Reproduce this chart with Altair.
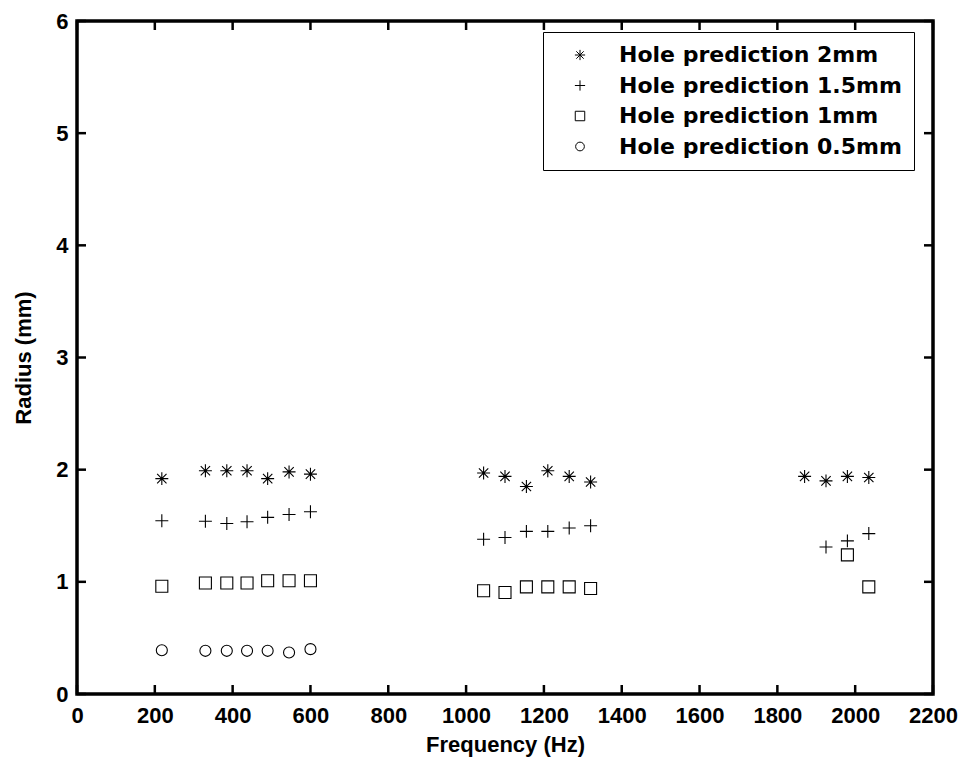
import altair as alt
import pandas as pd

# ---- data ----
series_names = ["Hole prediction 2mm", "Hole prediction 1.5mm",
                "Hole prediction 1mm", "Hole prediction 0.5mm"]

freq_2mm = [218, 330, 385, 437, 490, 545, 600,
            1045, 1100, 1155, 1210, 1265, 1320,
            1870, 1925, 1980, 2035]
rad_2mm = [1.92, 1.99, 1.99, 1.99, 1.92, 1.98, 1.96,
           1.97, 1.94, 1.85, 1.99, 1.94, 1.89,
           1.94, 1.90, 1.94, 1.93]

freq_15mm = [218, 330, 385, 437, 490, 545, 600,
             1045, 1100, 1155, 1210, 1265, 1320,
             1925, 1980, 2035]
rad_15mm = [1.545, 1.54, 1.52, 1.535, 1.575, 1.60, 1.625,
            1.38, 1.395, 1.45, 1.45, 1.48, 1.50,
            1.31, 1.365, 1.43]

freq_1mm = [218, 330, 385, 437, 490, 545, 600,
            1045, 1100, 1155, 1210, 1265, 1320,
            1980, 2035]
rad_1mm = [0.96, 0.99, 0.99, 0.99, 1.01, 1.01, 1.01,
           0.92, 0.905, 0.955, 0.955, 0.955, 0.94,
           1.24, 0.955]

freq_05mm = [218, 330, 385, 437, 490, 545, 600]
rad_05mm = [0.39, 0.385, 0.385, 0.385, 0.385, 0.37, 0.40]

x_ticks = [0, 200, 400, 600, 800, 1000, 1200, 1400, 1600, 1800, 2000, 2200]
y_ticks = [0, 1, 2, 3, 4, 5, 6]

# ---- build table ----
rows = []
for name, fs, rs in zip(series_names,
                        [freq_2mm, freq_15mm, freq_1mm, freq_05mm],
                        [rad_2mm, rad_15mm, rad_1mm, rad_05mm]):
    for f, r in zip(fs, rs):
        rows.append({"series": name, "freq": f, "radius": r})
df = pd.DataFrame(rows)

W, H = 856, 673
TICK = 9

star_path = ("M-1.08,0L1.08,0M0,-1.08L0,1.08"
             "M-0.78,-0.78L0.78,0.78M-0.78,0.78L0.78,-0.78")
plus_path = "M-1.08,0L1.08,0M0,-1.08L0,1.08"
square_path = "M-1,-1L1,-1L1,1L-1,1Z"
circle_path = "M0.92,0A0.92,0.92 0 1,1 -0.92,0A0.92,0.92 0 1,1 0.92,0Z"

xscale = alt.Scale(domain=[0, 2200], nice=False, zero=False)
yscale = alt.Scale(domain=[0, 6], nice=False, zero=False)

points = alt.Chart(df).mark_point(filled=False, color="black", strokeWidth=1.1,
                                  opacity=1, size=144).encode(
    x=alt.X("freq:Q", scale=xscale, title="Frequency (Hz)",
            axis=alt.Axis(values=x_ticks, format="d", ticks=False, domain=False, grid=False,
                          labelFont="Liberation Sans", labelFontWeight="bold",
                          labelFontSize=22, labelColor="black", labelPadding=11,
                          labelFlush=False, labelOverlap=False,
                          titleFont="Liberation Sans", titleFontWeight="bold",
                          titleFontSize=22, titleColor="black", titlePadding=8)),
    y=alt.Y("radius:Q", scale=yscale, title="Radius (mm)",
            axis=alt.Axis(values=y_ticks, format="d", ticks=False, domain=False, grid=False,
                          labelFont="Liberation Sans", labelFontWeight="bold",
                          labelFontSize=22, labelColor="black", labelPadding=9,
                          labelFlush=False, labelOverlap=False,
                          titleFont="Liberation Sans", titleFontWeight="bold",
                          titleFontSize=22, titleColor="black", titlePadding=20)),
    shape=alt.Shape("series:N", sort=series_names,
                    scale=alt.Scale(domain=series_names,
                                    range=[star_path, plus_path, square_path, circle_path]),
                    legend=alt.Legend(orient="none", legendX=466, legendY=11,
                                      title=None, strokeColor="black", fillColor="white",
                                      padding=12, rowPadding=8.5,
                                      labelFont="DejaVu Sans", labelFontWeight="bold",
                                      labelFontSize=22, labelColor="black",
                                      labelOffset=28, symbolOffset=14,
                                      symbolSize=90, symbolStrokeWidth=1,
                                      symbolStrokeColor="black",
                                      symbolFillColor="transparent",
                                      labelLimit=400)),
)

xt = pd.DataFrame({"t": x_ticks})
yt = pd.DataFrame({"t": y_ticks})

bottom_ticks = alt.Chart(xt).mark_rule(color="black", strokeWidth=2.5).encode(
    x=alt.X("t:Q", scale=xscale), y=alt.value(H), y2=alt.value(H - TICK))
top_ticks = alt.Chart(xt).mark_rule(color="black", strokeWidth=2.5).encode(
    x=alt.X("t:Q", scale=xscale), y=alt.value(0), y2=alt.value(TICK))
left_ticks = alt.Chart(yt).mark_rule(color="black", strokeWidth=2.5).encode(
    y=alt.Y("t:Q", scale=yscale), x=alt.value(0), x2=alt.value(TICK))
right_ticks = alt.Chart(yt).mark_rule(color="black", strokeWidth=2.5).encode(
    y=alt.Y("t:Q", scale=yscale), x=alt.value(W), x2=alt.value(W - TICK))

chart = alt.layer(bottom_ticks, top_ticks, left_ticks, right_ticks, points).properties(
    width=W, height=H,
    autosize=alt.AutoSizeParams(type="none"),
    padding={"left": 77, "top": 21, "right": 35, "bottom": 73},
    background="white",
).configure_view(stroke="black", strokeWidth=3.5)

chart.save("out.html", embed_options={"renderer": "svg", "actions": False})
